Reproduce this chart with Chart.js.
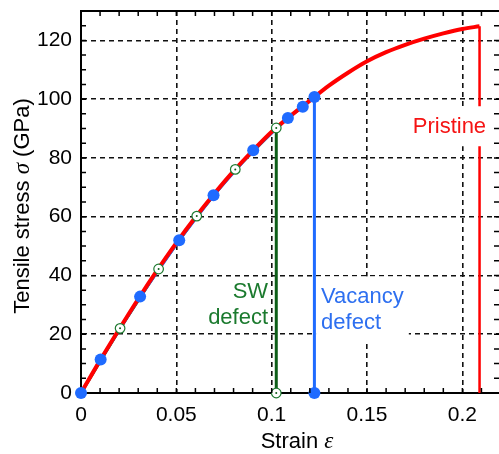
<!DOCTYPE html>
<html>
<head>
  <meta charset="UTF-8">
  <title>Tensile stress vs strain</title>
  <script src="https://cdn.jsdelivr.net/npm/chart.js"></script>
  <style>
    html, body { margin: 0; padding: 0; background: #fff; }
    #wrap { width: 499px; height: 454px; }
  </style>
</head>
<body>
  <div id="wrap"><canvas id="stressChart" width="499" height="454"></canvas></div>

  <script>
    // pristine sheet (red curve, breaks at the last strain)
    const pristineStrain = [0, 0.01, 0.02, 0.03, 0.04, 0.05, 0.06, 0.07, 0.08, 0.09, 0.10,
                            0.11, 0.12, 0.13, 0.14, 0.15, 0.16, 0.17, 0.18, 0.19, 0.20, 0.209];
    const pristineStress = [0, 11.1, 21.7, 32.0, 41.8, 51.1, 59.8, 67.9, 75.5, 82.4, 88.9,
                            94.4, 99.5, 104.6, 109.0, 112.9, 116.0, 118.5, 120.6, 122.4, 123.9, 124.8];

    // vacancy defect (blue dots)
    const vacancyStrain = [0, 0.0103, 0.031, 0.0515, 0.0695, 0.0903, 0.1085, 0.1163, 0.1224];
    const vacancyStress = [0, 11.4, 32.8, 52.0, 67.3, 82.6, 93.6, 97.4, 100.7];

    // Stone-Wales defect (open green circles)
    const swStrain = [0, 0.0205, 0.0407, 0.0607, 0.0809, 0.1024];
    const swStress = [0, 22.0, 42.2, 60.2, 76.1, 90.2];

    const xTicks = [0, 0.05, 0.1, 0.15, 0.2];
    const yTicks = [0, 20, 40, 60, 80, 100, 120];

    const RED = '#ff0000';
    const BLUE = '#1f6bff';
    const GREEN_LINE = '#0d5e18';
    const GREEN_MARK = '#1e7a30';
    const FONT = '"Liberation Sans", Arial, sans-serif';

    const pts = (xs, ys) => xs.map((x, i) => ({ x: x, y: ys[i] }));
    const drop = (xs, ys) => [{ x: xs[xs.length - 1], y: ys[ys.length - 1] }, { x: xs[xs.length - 1], y: 0 }];

    const pristinePts = pts(pristineStrain, pristineStress);
    const vacancyPts = pts(vacancyStrain, vacancyStress);
    const swPts = pts(swStrain, swStress);
    const vacancyMarks = vacancyPts.concat([drop(vacancyStrain, vacancyStress)[1]]);
    const swMarks = swPts.slice(1).concat([drop(swStrain, swStress)[1]]);

    // text labels drawn on top of the plot
    const notes = [
      { lines: ['Pristine'], x: 0.1932, y: 88.4, align: 'center', color: '#f51414', box: true },
      { lines: ['SW', 'defect'], x: 0.0981, y: 32.3, align: 'right', color: '#1b7a2e', box: false },
      { lines: ['Vacancy', 'defect'], x: 0.1259, y: 30.5, align: 'left', color: '#2d6ff0', box: true }
    ];

    // no extra room for tick labels: the plot box is set by layout padding only
    const noPad = s => { s.paddingTop = 0; s.paddingBottom = 0; s.paddingLeft = 0; s.paddingRight = 0; };

    const framePlugin = {
      id: 'frame',
      afterDatasetsDraw(chart) {
        const { ctx, chartArea: a, scales } = chart;
        ctx.save();
        ctx.strokeStyle = '#000';
        // top border
        ctx.lineWidth = 2;
        ctx.beginPath();
        ctx.moveTo(a.left, a.top);
        ctx.lineTo(a.right, a.top);
        ctx.stroke();
        // inward minor ticks on all four sides
        ctx.lineWidth = 1.5;
        ctx.beginPath();
        for (let i = 1; i <= 21; i++) {
          const px = scales.x.getPixelForValue(i / 100);
          ctx.moveTo(px, a.bottom); ctx.lineTo(px, a.bottom - 5);
          ctx.moveTo(px, a.top); ctx.lineTo(px, a.top + 5);
        }
        for (let v = 5; v <= 130; v += 5) {
          const py = scales.y.getPixelForValue(v);
          ctx.moveTo(a.left, py); ctx.lineTo(a.left + 5, py);
          ctx.moveTo(a.right, py); ctx.lineTo(a.right - 5, py);
        }
        ctx.stroke();

        // labels
        ctx.font = '22px ' + FONT;
        ctx.textBaseline = 'alphabetic';
        notes.forEach(n => {
          const px = scales.x.getPixelForValue(n.x);
          const py = scales.y.getPixelForValue(n.y);
          const w = Math.max(...n.lines.map(t => ctx.measureText(t).width));
          let left = px;
          if (n.align === 'center') left = px - w / 2;
          if (n.align === 'right') left = px - w;
          const lastBase = py + 26 * (n.lines.length - 1);
          if (n.box) {
            ctx.fillStyle = '#fff';
            ctx.fillRect(left - 5, py - 27, w + 10, lastBase + 13 - (py - 27));
          }
          ctx.fillStyle = n.color;
          ctx.textAlign = n.align;
          n.lines.forEach((t, i) => ctx.fillText(t, px, py + 26 * i));
        });
        ctx.restore();
      },
      afterDraw(chart) {
        const { ctx, chartArea: a } = chart;
        ctx.save();
        ctx.fillStyle = '#000';
        ctx.textBaseline = 'alphabetic';
        ctx.textAlign = 'left';
        const drawParts = (parts, x0, y0) => {
          let x = x0;
          parts.forEach(p => { ctx.font = p[1]; ctx.fillText(p[0], x, y0); x += ctx.measureText(p[0]).width; });
        };
        const width = parts => parts.reduce((s, p) => { ctx.font = p[1]; return s + ctx.measureText(p[0]).width; }, 0);
        const plain = '22px ' + FONT;
        const greek = 'italic 23px "Liberation Serif", "DejaVu Serif", serif';

        // x title
        const xt = [['Strain ', plain], ['\u03b5', greek]];
        drawParts(xt, 297 - width(xt) / 2, 448);

        // y title, rotated
        const yt = [['Tensile stress ', plain], ['\u03c3', greek], [' (GPa)', plain]];
        const cy = (a.top + a.bottom) / 2 + 4;
        ctx.translate(29, cy);
        ctx.rotate(-Math.PI / 2);
        drawParts(yt, -width(yt) / 2, 0);
        ctx.restore();
      }
    };

    const ctx = document.getElementById('stressChart').getContext('2d');
    new Chart(ctx, {
      type: 'scatter',
      data: {
        datasets: [
          { label: 'Vacancy points', data: vacancyMarks, showLine: false, pointRadius: 6,
            pointBackgroundColor: BLUE, pointBorderColor: BLUE, pointBorderWidth: 0, clip: false },
          { label: 'SW centres', data: swMarks, showLine: false, pointRadius: 1,
            pointBackgroundColor: GREEN_LINE, pointBorderWidth: 0, clip: false },
          { label: 'SW points', data: swMarks, showLine: false, pointRadius: 4.8,
            pointBackgroundColor: '#fff', pointBorderColor: GREEN_MARK, pointBorderWidth: 1.2, clip: false },
          { label: 'Pristine', data: pristinePts, showLine: true, pointRadius: 0,
            borderColor: RED, borderWidth: 4, cubicInterpolationMode: 'monotone', clip: false },
          { label: 'Pristine failure', data: drop(pristineStrain, pristineStress), showLine: true, pointRadius: 0,
            borderColor: RED, borderWidth: 2.5, clip: false },
          { label: 'Vacancy', data: vacancyPts.concat([drop(vacancyStrain, vacancyStress)[1]]), showLine: true,
            pointRadius: 0, borderColor: BLUE, borderWidth: 3, clip: false },
          { label: 'SW', data: swPts.concat([drop(swStrain, swStress)[1]]), showLine: true,
            pointRadius: 0, borderColor: GREEN_LINE, borderWidth: 3, clip: false }
        ]
      },
      options: {
        responsive: false,
        animation: false,
        layout: { autoPadding: false, padding: { top: 11, right: 0, bottom: 0, left: 0 } },
        plugins: { legend: { display: false }, tooltip: { enabled: false } },
        scales: {
          x: {
            type: 'linear', min: 0, max: 0.2192,
            afterBuildTicks: s => { s.ticks = xTicks.map(v => ({ value: v })); },
            afterFit: s => { s.height = 61; noPad(s); },
            ticks: { font: { family: FONT, size: 21 }, color: '#000', padding: 10, maxRotation: 0,
                     autoSkip: false, callback: v => String(+v.toFixed(2)) },
            grid: { color: '#111', lineWidth: 1.6, drawTicks: false },
            border: { display: true, color: '#000', width: 2, dash: [5, 4] }
          },
          y: {
            type: 'linear', min: 0, max: 130,
            afterBuildTicks: s => { s.ticks = yTicks.map(v => ({ value: v })); },
            afterFit: s => { s.width = 81; noPad(s); },
            ticks: { font: { family: FONT, size: 21 }, color: '#000', padding: 9,
                     callback: v => String(v) },
            grid: { color: '#111', lineWidth: 1.6, drawTicks: false },
            border: { display: true, color: '#000', width: 2, dash: [5, 4] }
          }
        }
      },
      plugins: [framePlugin]
    });
  </script>
</body>
</html>
